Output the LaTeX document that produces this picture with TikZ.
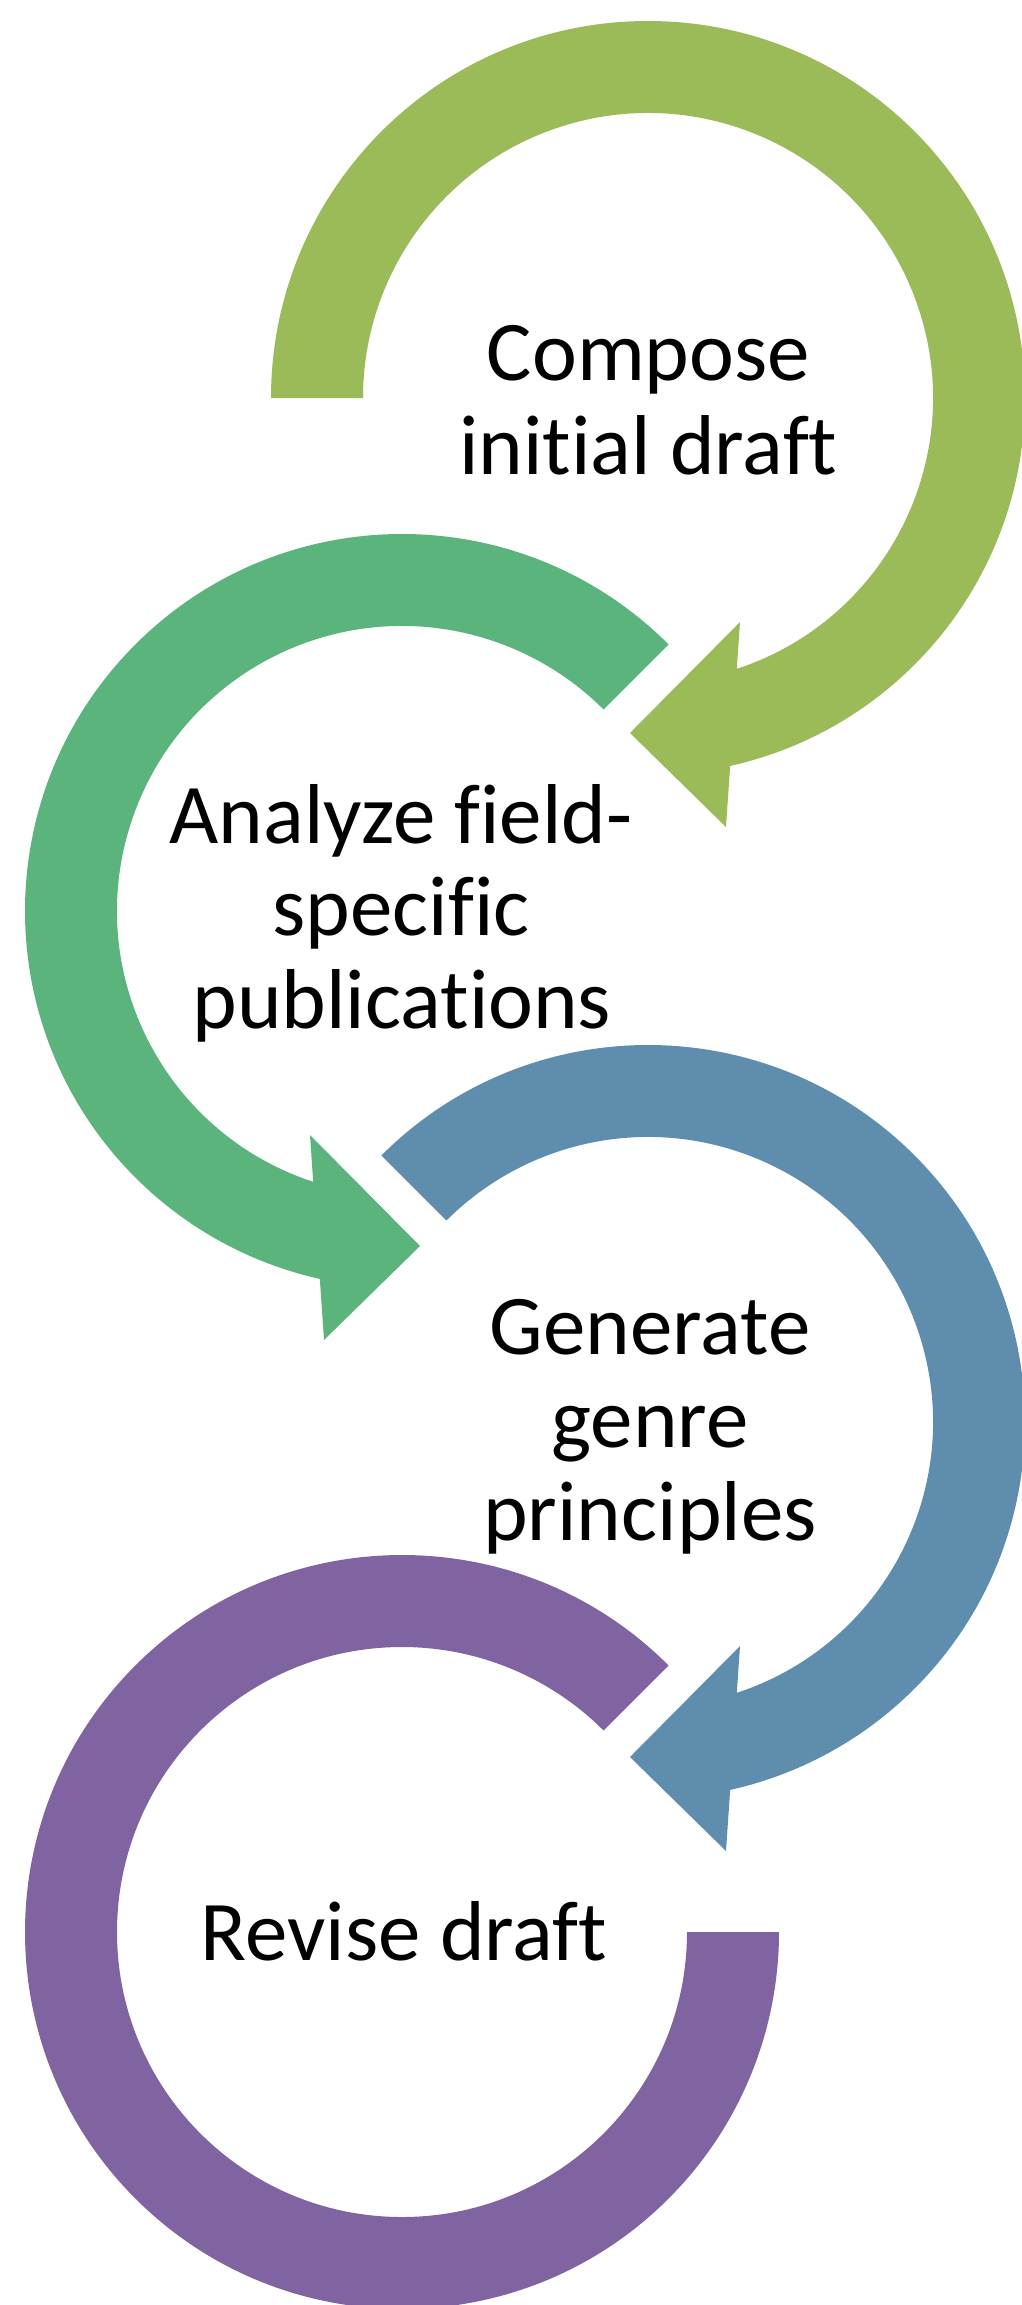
\documentclass[tikz,border=0pt]{standalone}
\usepackage{fontspec}
\setmainfont{Carlito}[Ligatures=NoCommon]
\definecolor{cgreen}{HTML}{9BBB59}
\definecolor{cteal}{HTML}{5CB47D}
\definecolor{cblue}{HTML}{5F8DAE}
\definecolor{cpurple}{HTML}{8064A2}
\begin{document}
\begin{tikzpicture}[x=1pt,y=1pt,
  lbl/.style={inner sep=0pt, anchor=base,
    font=\fontsize{85}{93}\selectfont, text=black}]
\useasboundingbox (0,-2305) rectangle (1022,0);
\clip (0,-2305) rectangle (1022,0);
% green arrow (clockwise)
\begin{scope}[shift={(648,-398)}]
\fill[cgreen] (180:377) arc[start angle=180, end angle=-77.41, radius=377]
  -- (78,-429) -- (-18,-335) -- (92,-224) -- (-71.84:285)
  arc[start angle=-71.84, end angle=180, radius=285] -- cycle;
\end{scope}
% teal arrow (counter-clockwise)
\begin{scope}[shift={(402,-911)}]
\fill[cteal] (45:377) arc[start angle=45, end angle=257.41, radius=377]
  -- (-78,-429) -- (18,-335) -- (-92,-224) -- (251.84:285)
  arc[start angle=251.84, end angle=45, radius=285] -- cycle;
\end{scope}
% blue arrow (clockwise)
\begin{scope}[shift={(648,-1422)}]
\fill[cblue] (135:377) arc[start angle=135, end angle=-77.41, radius=377]
  -- (78,-429) -- (-18,-335) -- (92,-224) -- (-71.84:285)
  arc[start angle=-71.84, end angle=135, radius=285] -- cycle;
\end{scope}
% purple ring
\begin{scope}[shift={(402,-1932)}]
\fill[cpurple] (45:377) arc[start angle=45, end angle=360, radius=377]
  -- (0:285) arc[start angle=360, end angle=45, radius=285] -- cycle;
\end{scope}
% labels
\node[lbl] (compose1) at (648.5,-380) {Compose};
\node[lbl] (compose2) at (648.5,-474) {initial draft};
\node[lbl] (analyze1) at (401,-843) {Analyze field-};
\node[lbl] (analyze2) at (401,-935) {specific};
\node[lbl] (analyze3) at (402,-1028) {publications};
\node[lbl] (generate1) at (650,-1354) {Generate};
\node[lbl] (generate2) at (650,-1447) {genre};
\node[lbl] (generate3) at (650,-1540) {principles};
\node[lbl] (revise) at (404,-1960) {Revise draft};
\end{tikzpicture}
\end{document}
